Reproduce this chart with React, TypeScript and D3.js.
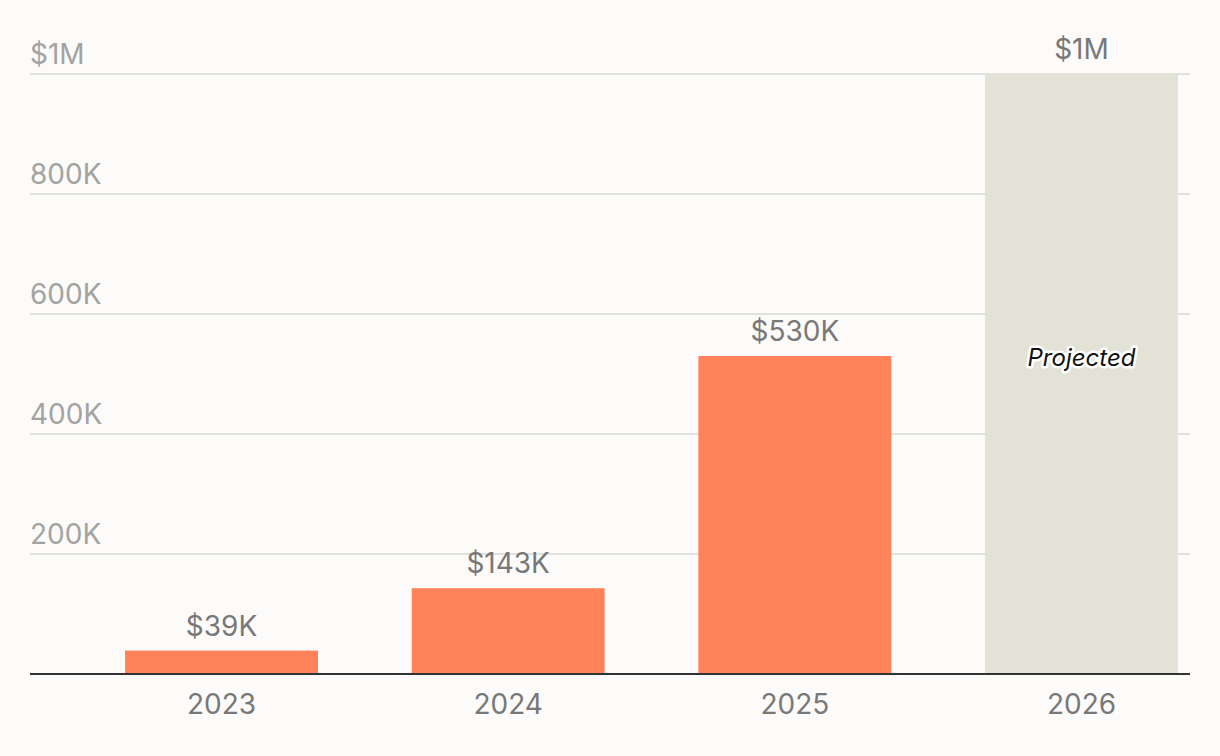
import { useEffect, useRef } from 'react'
import * as d3 from 'd3'

const years = ['2023', '2024', '2025', '2026']
const revenue = [39000, 143000, 530000, 1000000]
const valueLabels = ['$39K', '$143K', '$530K', '$1M']
const projected = [false, false, false, true]
const yTicks = [0, 200000, 400000, 600000, 800000, 1000000]
const yTickLabels = ['', '200K', '400K', '600K', '800K', '$1M']

const W = 1220
const H = 756
const FONT = 'Inter, "Liberation Sans", Arial, sans-serif'

const App = () => {
  const svgRef = useRef<SVGSVGElement | null>(null)

  useEffect(() => {
    if (!svgRef.current) return
    const svg = d3.select(svgRef.current)
    svg.selectAll('*').remove()

    const x = d3.scaleBand<string>()
      .domain(years)
      .range([113, 1190])
      .paddingInner(0.327)
      .paddingOuter(0.042)

    const y = d3.scaleLinear()
      .domain([0, 1000000])
      .range([674, 74])

    svg.append('rect')
      .attr('width', W)
      .attr('height', H)
      .attr('fill', '#fcfbf9')

    // grid lines + labels
    const grid = svg.append('g')
    grid.selectAll('line')
      .data(yTicks.slice(1))
      .enter()
      .append('line')
      .attr('x1', 30)
      .attr('x2', 1190)
      .attr('y1', d => y(d))
      .attr('y2', d => y(d))
      .attr('stroke', '#d9d8d5')
      .attr('stroke-width', 1.5)

    grid.selectAll('text')
      .data(yTicks)
      .enter()
      .append('text')
      .attr('x', 30)
      .attr('y', d => y(d) - 10)
      .attr('fill', '#a3a3a1')
      .style('font-family', FONT)
      .style('font-size', '28px')
      .text((_, i) => yTickLabels[i])

    const data = years.map((yr, i) => ({ yr, v: revenue[i], label: valueLabels[i], proj: projected[i] }))

    // bars
    svg.append('g')
      .selectAll('rect')
      .data(data)
      .enter()
      .append('rect')
      .attr('x', d => x(d.yr)!)
      .attr('width', x.bandwidth())
      .attr('y', d => y(d.v))
      .attr('height', d => y(0) - y(d.v))
      .attr('fill', d => (d.proj ? '#e3e2d7' : '#ff8258'))

    // value labels
    svg.append('g')
      .selectAll('text')
      .data(data)
      .enter()
      .append('text')
      .attr('x', d => x(d.yr)! + x.bandwidth() / 2)
      .attr('y', d => y(d.v) - 15)
      .attr('text-anchor', 'middle')
      .attr('fill', '#787878')
      .style('font-family', FONT)
      .style('font-size', '28px')
      .text(d => d.label)

    // projected note
    const proj = data.filter(d => d.proj)
    svg.append('g')
      .selectAll('text')
      .data(proj)
      .enter()
      .append('text')
      .attr('x', d => x(d.yr)! + x.bandwidth() / 2)
      .attr('y', d => y(d.v / 2) - 8)
      .attr('text-anchor', 'middle')
      .attr('fill', '#111')
      .attr('stroke', '#ffffff')
      .attr('stroke-width', 5)
      .attr('stroke-linejoin', 'round')
      .attr('paint-order', 'stroke')
      .style('font-family', FONT)
      .style('font-style', 'italic')
      .style('font-size', '24px')
      .text('Projected')

    // baseline
    svg.append('line')
      .attr('x1', 30)
      .attr('x2', 1190)
      .attr('y1', y(0))
      .attr('y2', y(0))
      .attr('stroke', '#333')
      .attr('stroke-width', 2)

    // x axis labels
    svg.append('g')
      .selectAll('text')
      .data(years)
      .enter()
      .append('text')
      .attr('x', d => x(d)! + x.bandwidth() / 2)
      .attr('y', y(0) + 40)
      .attr('text-anchor', 'middle')
      .attr('fill', '#787878')
      .style('font-family', FONT)
      .style('font-size', '28px')
      .text(d => d)
  }, [])

  return (
    <div style={{ position: 'absolute', left: 0, top: 0 }}>
      <svg ref={svgRef} width={W} height={H} style={{ display: 'block' }} />
    </div>
  )
}

export default App
